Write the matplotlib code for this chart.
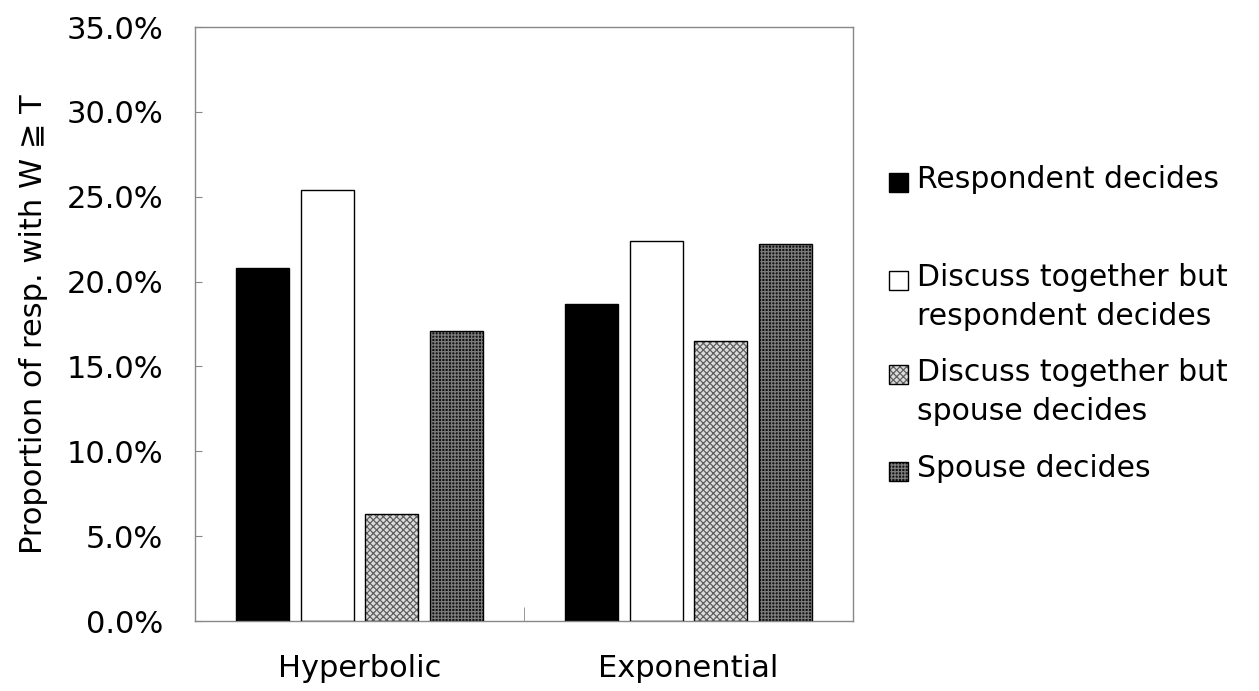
import numpy as np
import matplotlib.pyplot as plt
from matplotlib.patches import Rectangle
from matplotlib.ticker import PercentFormatter

# 区分と系列
models = ['Hyperbolic', 'Exponential']
series = ['Respondent decides',
          'Discuss together but\nrespondent decides',
          'Discuss together but\nspouse decides',
          'Spouse decides']
respondent = [0.208, 0.187]
discuss_resp = [0.254, 0.224]
discuss_spouse = [0.063, 0.165]
spouse = [0.171, 0.222]
values = [respondent, discuss_resp, discuss_spouse, spouse]
yticks = np.arange(0, 0.351, 0.05)

# 見た目（塗り・ハッチ・ハッチ色）
styles = [
    dict(face='black', hatch=None, hcolor='black'),
    dict(face='white', hatch=None, hcolor='black'),
    dict(face='#dcdcdc', hatch='xxxxx', hcolor='#606060'),
    dict(face='#111111', hatch='+++++', hcolor='#7c7c7c'),
]

plt.rcParams['font.family'] = ['DejaVu Sans']
plt.rcParams['hatch.linewidth'] = 0.9

fig = plt.figure(figsize=(12.59, 6.91), dpi=100)
ax = fig.add_axes([0.1549, 0.1013, 0.5226, 0.8596])

x = np.arange(len(models))
width = 0.161
step = 0.197
for i, (vals, st) in enumerate(zip(values, styles)):
    pos = x + (i - 1.5) * step
    # ハッチ付きの塗り
    ax.bar(pos, vals, width, color=st['face'], hatch=st['hatch'],
           edgecolor=st['hcolor'], linewidth=0, zorder=2)
    # 外枠
    ax.bar(pos, vals, width, fill=False, edgecolor='black',
           linewidth=1.0, zorder=3)

ax.set_xlim(-0.5, 1.5)
ax.set_ylim(0, 0.35)
ax.set_yticks(yticks)
ax.yaxis.set_major_formatter(PercentFormatter(1.0, decimals=1))
ax.set_xticks([0.5], minor=True)
ax.set_xticks(x)
ax.set_xticklabels(models)
ax.tick_params(axis='x', which='major', length=0, pad=24, labelsize=22)
ax.tick_params(axis='x', which='minor', direction='in', length=10,
               color='#888888')
ax.tick_params(axis='y', direction='in', length=5, color='#888888',
               pad=23, labelsize=22)
for s in ax.spines.values():
    s.set_color('#888888')
    s.set_linewidth(1.0)

ax.set_ylabel('Proportion of resp. with W \u2267 T', fontsize=22,
              labelpad=13)

# 凡例（手動配置）
leg_rows = [182, 280, 375, 471]   # 各項目の1行目の中心 (px)
for lab, st, yp in zip(series, styles, leg_rows):
    yf = 1 - yp / 691
    sq_w = 19 / 1259
    sq_h = 19 / 691
    fig.add_artist(Rectangle((889 / 1259, yf - sq_h / 2), sq_w, sq_h,
                             facecolor=st['face'], hatch=st['hatch'],
                             edgecolor=st['hcolor'], linewidth=0,
                             transform=fig.transFigure))
    fig.add_artist(Rectangle((889 / 1259, yf - sq_h / 2), sq_w, sq_h,
                             fill=False, edgecolor='black', linewidth=1.0,
                             transform=fig.transFigure))
    fig.text(917 / 1259, yf + 17 / 691, lab, fontsize=21.5, va='top',
             ha='left', linespacing=1.45, transform=fig.transFigure)

fig.savefig('out.png', dpi=100)
